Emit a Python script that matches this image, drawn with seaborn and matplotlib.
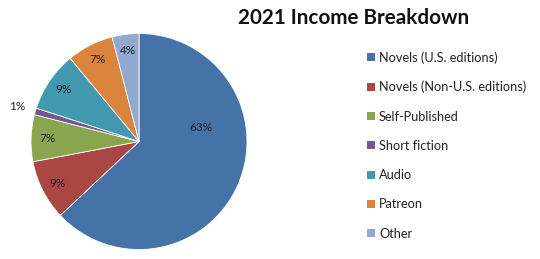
import matplotlib
matplotlib.use("Agg")
import matplotlib.pyplot as plt
import matplotlib.patches as mpatches
import numpy as np
import seaborn as sns

# Income sources and their shares (percent)
categories = ["Novels (U.S. editions)", "Novels (Non-U.S. editions)", "Self-Published",
              "Short fiction", "Audio", "Patreon", "Other"]
shares = [63, 9, 7, 1, 9, 7, 4]
colors = ["#4572A7", "#AA4643", "#89A54E", "#71588F", "#4198AF", "#DB843D", "#93A9CF"]
title = "2021 Income Breakdown"

sns.set_theme(style="white")
palette = sns.color_palette(colors)
plt.rcParams["font.family"] = ["Lato", "DejaVu Sans"]

fig = plt.figure(figsize=(5.4, 2.59), dpi=100)
ax = fig.add_axes([31 / 540, 9.5 / 259, 216 / 540, 216 / 259])

wedges, texts, autotexts = ax.pie(
    shares, colors=palette, startangle=90, counterclock=False,
    autopct="%1.0f%%", pctdistance=0.85,
    wedgeprops=dict(edgecolor="white", linewidth=0.6),
    textprops=dict(fontsize=8.5, color="#1f1f2e"),
)

# Small slice label sits outside the pie; large slice label moved inward
for w, t, s in zip(wedges, autotexts, shares):
    mid = np.deg2rad((w.theta1 + w.theta2) / 2)
    if s <= 1:
        t.set_position((1.17 * np.cos(mid), 1.17 * np.sin(mid)))
    elif s > 50:
        ang = np.deg2rad(13)
        t.set_position((0.59 * np.cos(ang), 0.59 * np.sin(ang)))

ax.set_xlim(-1, 1)
ax.set_ylim(-1, 1)
ax.set_aspect("equal")
ax.axis("off")

fig.text(354 / 540, 1 - 18 / 259, title, fontsize=14.9, fontweight="bold",
         ha="center", va="center", color="#111111")

handles = [mpatches.Patch(facecolor=c, edgecolor="none") for c in palette]
fig.legend(handles, categories, loc="upper left", bbox_to_anchor=(367 / 540, 1 - 51 / 259),
           frameon=False, fontsize=9.2, handlelength=0.6, handleheight=0.6,
           handletextpad=0.35, labelspacing=1.35, borderaxespad=0, borderpad=0,
           labelcolor="#222222")

fig.savefig("out.png", dpi=100, facecolor="white")
